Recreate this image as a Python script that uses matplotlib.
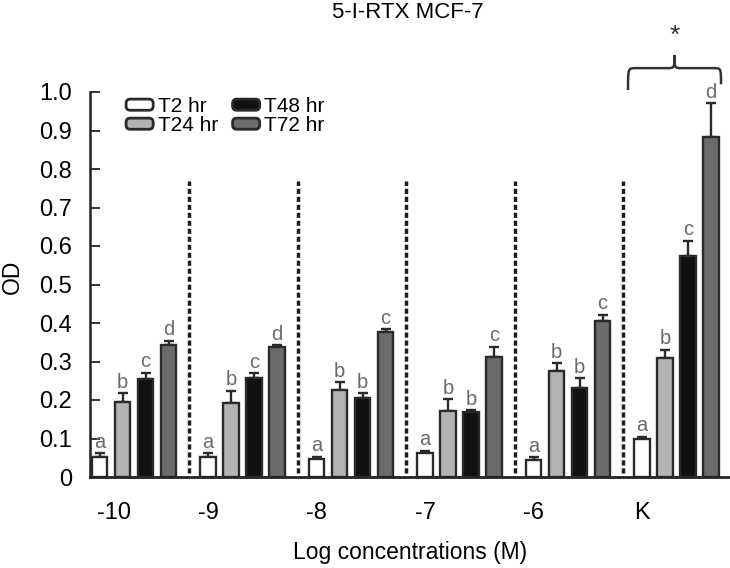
import matplotlib
matplotlib.use("Agg")
import matplotlib.pyplot as plt
import numpy as np
from matplotlib.patches import FancyBboxPatch, Patch
from matplotlib.legend_handler import HandlerPatch
from matplotlib.path import Path
from matplotlib.patches import PathPatch

plt.rcParams['font.family'] = ['Liberation Sans', 'DejaVu Sans']

# ---- data ----
groups = ['-10', '-9', '-8', '-7', '-6', 'K']
series = ['T2 hr', 'T24 hr', 'T48 hr', 'T72 hr']
t2 = [0.053, 0.053, 0.046, 0.062, 0.044, 0.098]
t24 = [0.196, 0.191, 0.226, 0.172, 0.276, 0.308]
t48 = [0.255, 0.256, 0.206, 0.170, 0.232, 0.574]
t72 = [0.343, 0.337, 0.377, 0.312, 0.405, 0.884]
t2_err = [0.009, 0.009, 0.007, 0.006, 0.007, 0.007]
t24_err = [0.022, 0.033, 0.020, 0.030, 0.019, 0.022]
t48_err = [0.016, 0.014, 0.011, 0.003, 0.024, 0.040]
t72_err = [0.011, 0.005, 0.007, 0.026, 0.016, 0.087]
t2_lab = ['a', 'a', 'a', 'a', 'a', 'a']
t24_lab = ['b', 'b', 'b', 'b', 'b', 'b']
t48_lab = ['c', 'c', 'b', 'b', 'b', 'c']
t72_lab = ['d', 'd', 'c', 'c', 'c', 'd']
yticks = [0, 0.1, 0.2, 0.3, 0.4, 0.5, 0.6, 0.7, 0.8, 0.9, 1.0]
ytick_labels = ['0', '0.1', '0.2', '0.3', '0.4', '0.5', '0.6', '0.7', '0.8', '0.9', '1.0']

values = [t2, t24, t48, t72]
errors = [t2_err, t24_err, t48_err, t72_err]
letters = [t2_lab, t24_lab, t48_lab, t72_lab]
fills = ['#ffffff', '#b3b3b3', '#111111', '#6b6b6b']

W, H = 730, 568
fig = plt.figure(figsize=(W / 100, H / 100), dpi=100)
ax = fig.add_axes([90 / W, 1 - 477 / H, 640 / W, (477 - 92) / H])

bar_w = 0.143
step = 0.212
x0 = np.arange(len(groups))
for i in range(4):
    xs = x0 + i * step
    ax.bar(xs, values[i], width=bar_w, color=fills[i], edgecolor='#2a2a2a',
           linewidth=1.7, zorder=3)
    ax.errorbar(xs, values[i], yerr=[np.zeros(len(groups)), errors[i]], fmt='none',
                ecolor='#2a2a2a', elinewidth=1.7, capsize=3.5, capthick=1.7, zorder=2)
    for x, v, e, l in zip(xs, values[i], errors[i], letters[i]):
        ax.text(x, v + e + 0.004, l, ha='center', va='bottom', fontsize=14.5,
                color='#6a6a6a', clip_on=False)

# dashed separators
for g in range(len(groups) - 1):
    ax.plot([g + 0.826, g + 0.826], [0.01, 0.77], ls=(0, (1.5, 0.8)), color='#1e1e1e',
            lw=2.5, zorder=1)

ax.set_xlim(-0.0876, 5.811)
ax.set_ylim(0, 1.0)
ax.set_yticks(yticks)
ax.set_yticklabels(ytick_labels)
tick_pos = x0.astype(float).copy()
tick_pos[0] += 0.135
ax.set_xticks(tick_pos)
ax.set_xticklabels(groups)
ax.tick_params(axis='y', direction='in', length=7, width=1.3, labelsize=17, pad=13,
               color='#222222')
ax.tick_params(axis='x', length=0, labelsize=17, pad=18)
for s in ['top', 'right']:
    ax.spines[s].set_visible(False)
ax.spines['left'].set_linewidth(1.8)
ax.spines['bottom'].set_linewidth(2.0)
ax.spines['left'].set_color('#222222')
ax.spines['bottom'].set_color('#222222')

# brace with star
xa, xb = 4.871, 5.728
xc = (xa + xb) / 2
yh, ye, yp = 1.062, 1.005, 1.096
d = 0.07
verts = [(xa, ye), (xa, yh), (xa, yh), (xa + d, yh),
         (xc - d, yh), (xc, yh), (xc, yh), (xc, yp),
         (xc, yh), (xc, yh), (xc + d, yh),
         (xb - d, yh), (xb, yh), (xb, yh), (xb, ye + 0.015)]
codes = [Path.MOVETO, Path.CURVE4, Path.CURVE4, Path.CURVE4,
         Path.LINETO, Path.CURVE4, Path.CURVE4, Path.CURVE4,
         Path.CURVE4, Path.CURVE4, Path.CURVE4,
         Path.LINETO, Path.CURVE4, Path.CURVE4, Path.CURVE4]
ax.add_patch(PathPatch(Path(verts, codes), fill=False, edgecolor='#333333', lw=1.8,
                       clip_on=False))
ax.text(xc, 1.115, '*', ha='center', va='bottom', fontsize=19, color='#333333',
        clip_on=False)


class RoundHandler(HandlerPatch):
    def create_artists(self, legend, orig_handle, xdescent, ydescent, width, height,
                       fontsize, trans):
        p = FancyBboxPatch((-xdescent + 1.5, -ydescent + 1.0), width - 3, height - 2,
                           boxstyle='round,pad=0,rounding_size=3',
                           facecolor=orig_handle.get_facecolor(),
                           edgecolor='#2a2a2a', linewidth=2.0, transform=trans)
        return [p]


handles = [Patch(facecolor=fills[i], edgecolor='#2a2a2a', label=series[i]) for i in range(4)]
leg = fig.legend(handles=handles, ncol=2, loc='upper left',
                 bbox_to_anchor=(124 / W, 1 - 97 / H), frameon=False,
                 fontsize=15, handlelength=1.5, handleheight=0.65,
                 handletextpad=0.12, columnspacing=0.6, labelspacing=0.0,
                 borderpad=0, borderaxespad=0,
                 handler_map={Patch: RoundHandler()})

fig.text(408 / W, 1 - 12 / H, '5-I-RTX MCF-7', ha='center', va='center', fontsize=16)
fig.text(410 / W, 1 - 553 / H, 'Log concentrations (M)', ha='center', va='center',
         fontsize=16.5)
fig.text(12 / W, 1 - 277 / H, 'OD', ha='center', va='center', rotation=90, fontsize=16.5)

fig.savefig('out.png', dpi=100)
